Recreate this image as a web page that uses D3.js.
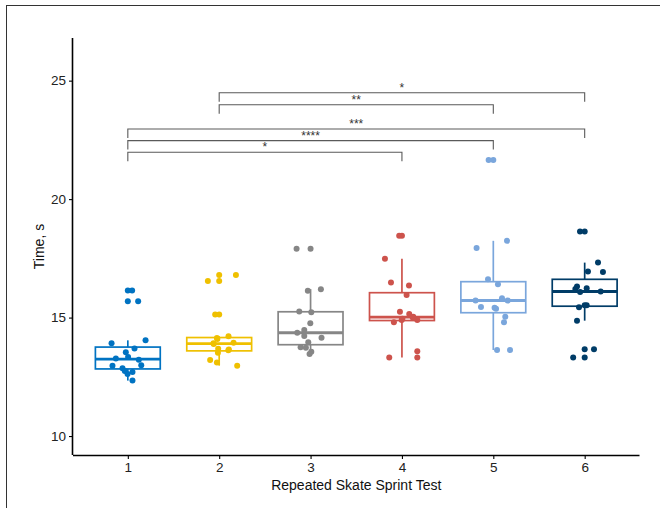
<!DOCTYPE html>
<html>
<head>
<meta charset="utf-8">
<script src="https://cdn.jsdelivr.net/npm/d3@7"></script>
<style>
  html, body { margin: 0; padding: 0; background: #fff; }
  svg { display: block; }
  text { font-family: "Liberation Sans", Arial, sans-serif; }
</style>
</head>
<body>
<svg id="chart" width="660" height="508"></svg>
<script>
// ---- data ----
const categories = ["1", "2", "3", "4", "5", "6"];
const colors = ["#0073C2", "#EFC000", "#868686", "#CD534C", "#7AA6DC", "#003C67"];

const test1 = [16.14, 15.69, 14.04, 13.92, 13.70, 13.54, 13.34, 13.27, 13.22, 12.99, 12.97, 12.86, 12.75, 12.70, 12.62, 12.34];
const test2 = [16.80, 16.54, 15.13, 14.21, 14.14, 14.10, 13.94, 13.92, 13.88, 13.68, 13.65, 13.62, 13.52, 13.21, 13.10, 12.97];
const test3 = [17.90, 16.20, 16.13, 15.26, 15.23, 14.76, 14.48, 14.36, 14.22, 14.15, 13.96, 13.75, 13.73, 13.56, 13.46];
const test4 = [18.45, 17.48, 16.48, 16.35, 15.95, 15.25, 15.15, 15.04, 15.00, 14.95, 14.90, 14.90, 14.80, 13.58, 13.31, 13.31];
const test5 = [21.65, 18.24, 17.94, 16.62, 16.41, 15.82, 15.72, 15.72, 15.45, 15.41, 15.37, 15.04, 14.80, 13.63, 13.63];
const test6 = [18.63, 17.32, 16.94, 16.92, 16.31, 16.24, 16.21, 16.10, 16.08, 15.52, 15.52, 15.44, 14.87, 13.66, 13.31];

// horizontal jitter (in category units)
const jitter1 = [0.047, 0.113, 0.194, -0.178, 0.073, -0.022, 0.003, -0.131, 0.120, 0.147, -0.168, -0.058, -0.033, 0.051, -0.003, 0.051];
const jitter2 = [0.183, -0.124, -0.044, 0.102, -0.025, -0.020, 0.157, -0.062, -0.060, -0.011, 0.106, 0.100, -0.014, -0.099, -0.025, 0.197];
const jitter3 = [-0.153, 0.113, -0.030, -0.124, 0.008, -0.003, -0.069, -0.146, -0.069, 0.120, -0.025, -0.109, -0.051, 0.008, -0.011];
const jitter4 = [-0.030, -0.186, -0.120, 0.077, 0.051, -0.022, 0.080, 0.124, 0.118, 0.005, 0.168, -0.003, -0.088, 0.168, -0.139, 0.168];
const jitter5 = [-0.051, 0.150, -0.183, -0.058, 0.051, 0.095, -0.194, 0.157, -0.135, 0.014, 0.030, 0.131, 0.117, 0.041, 0.183];
const jitter6 = [-0.051, 0.146, 0.036, 0.200, -0.084, 0.022, -0.102, 0.175, -0.050, 0.000, 0.022, -0.062, -0.084, 0.102, -0.126];

const yTicks = [10, 15, 20, 25];

// significance brackets: from group, to group, height (s), label
const bracketFrom = [2, 2, 1, 1, 1];
const bracketTo = [6, 5, 6, 5, 4];
const bracketY = [24.49, 23.98, 22.96, 22.47, 21.98];
const bracketLabel = ["*", "**", "***", "****", "*"];

const series = [test1, test2, test3, test4, test5, test6];
const jitters = [jitter1, jitter2, jitter3, jitter4, jitter5, jitter6];

// ---- layout ----
const svg = d3.select("#chart");
const mLeft = 73, mRight = 639.5, mTop = 38, mBottom = 455;

const x = d3.scaleLinear().domain([0.4, 6.6]).range([mLeft, mRight]);
const y = d3.scaleLinear().domain([9.2, 26.8]).range([mBottom, mTop]);
const unit = x(2) - x(1);

// outer frame
svg.append("rect")
  .attr("x", 6.5).attr("y", 5.5).attr("width", 700).attr("height", 600)
  .attr("fill", "none").attr("stroke", "#333").attr("stroke-width", 1);

// box stats
function stats(vals) {
  const s = vals.slice().sort(d3.ascending);
  const q1 = d3.quantile(s, 0.25), med = d3.quantile(s, 0.5), q3 = d3.quantile(s, 0.75);
  const iqr = q3 - q1;
  const lo = q1 - 1.5 * iqr, hi = q3 + 1.5 * iqr;
  const inside = s.filter(v => v >= lo && v <= hi);
  return { q1, med, q3, wlo: d3.min(inside), whi: d3.max(inside), out: s.filter(v => v < lo || v > hi) };
}

const boxW = 0.71 * unit;
const plot = svg.append("g");
const rPt = 3.0;

series.forEach((vals, i) => {
  const st = stats(vals);
  const cx = x(i + 1);
  const col = colors[i];
  const g = plot.append("g");
  g.append("line").attr("x1", cx).attr("x2", cx).attr("y1", y(st.q3)).attr("y2", y(st.whi))
    .attr("stroke", col).attr("stroke-width", 1.7);
  g.append("line").attr("x1", cx).attr("x2", cx).attr("y1", y(st.q1)).attr("y2", y(st.wlo))
    .attr("stroke", col).attr("stroke-width", 1.7);
  g.append("rect").attr("x", cx - boxW / 2).attr("width", boxW)
    .attr("y", y(st.q3)).attr("height", y(st.q1) - y(st.q3))
    .attr("fill", "#fff").attr("stroke", col).attr("stroke-width", 1.7);
  g.append("line").attr("x1", cx - boxW / 2).attr("x2", cx + boxW / 2)
    .attr("y1", y(st.med)).attr("y2", y(st.med))
    .attr("stroke", col).attr("stroke-width", 2.8);
  g.selectAll("circle.out").data(st.out).join("circle").attr("class", "out")
    .attr("cx", cx).attr("cy", d => y(d)).attr("r", rPt).attr("fill", col);
  g.selectAll("circle.pt").data(vals.map((v, k) => [v, jitters[i][k]])).join("circle").attr("class", "pt")
    .attr("cx", d => x(i + 1 + d[1])).attr("cy", d => y(d[0])).attr("r", rPt).attr("fill", col);
});

// brackets
const tip = 0.38;
bracketFrom.forEach((a, k) => {
  const b = bracketTo[k], h = bracketY[k];
  const path = d3.path();
  path.moveTo(x(a), y(h - tip));
  path.lineTo(x(a), y(h));
  path.lineTo(x(b), y(h));
  path.lineTo(x(b), y(h - tip));
  svg.append("path").attr("d", path.toString()).attr("fill", "none")
    .attr("stroke", "#5a5a5a").attr("stroke-width", 1.1);
  svg.append("text").attr("x", x((a + b) / 2)).attr("y", y(h) - 1)
    .attr("text-anchor", "middle").attr("font-size", 12).attr("fill", "#333")
    .text(bracketLabel[k]);
});

// axes
const xAxis = d3.axisBottom(x).tickValues(categories.map(Number)).tickFormat((d, i) => categories[i]).tickSize(4).tickPadding(3);
const gx = svg.append("g").attr("transform", `translate(0,${mBottom})`).call(xAxis);
gx.select(".domain").attr("d", `M${mLeft},0.5H${mRight}`).attr("stroke", "#000").attr("stroke-width", 1.6);
gx.selectAll(".tick line").attr("stroke", "#000").attr("stroke-width", 1.1);
gx.selectAll(".tick text").attr("font-size", 13.5).attr("fill", "#222").attr("font-family", "Liberation Sans, Arial, sans-serif");

const yAxis = d3.axisLeft(y).tickValues(yTicks).tickSize(4).tickPadding(3);
const gy = svg.append("g").attr("transform", `translate(${mLeft},0)`).call(yAxis);
gy.select(".domain").attr("d", `M-0.5,${mTop}V${mBottom}`).attr("stroke", "#000").attr("stroke-width", 1.6);
gy.selectAll(".tick line").attr("stroke", "#000").attr("stroke-width", 1.1);
gy.selectAll(".tick text").attr("font-size", 13.5).attr("fill", "#222").attr("font-family", "Liberation Sans, Arial, sans-serif");

// titles
svg.append("text").attr("x", (mLeft + mRight) / 2).attr("y", 490)
  .attr("text-anchor", "middle").attr("font-size", 14).attr("fill", "#111")
  .text("Repeated Skate Sprint Test");
svg.append("text").attr("transform", `translate(44,${(mTop + mBottom) / 2}) rotate(-90)`)
  .attr("text-anchor", "middle").attr("font-size", 14).attr("fill", "#111")
  .text("Time, s");
</script>
</body>
</html>
